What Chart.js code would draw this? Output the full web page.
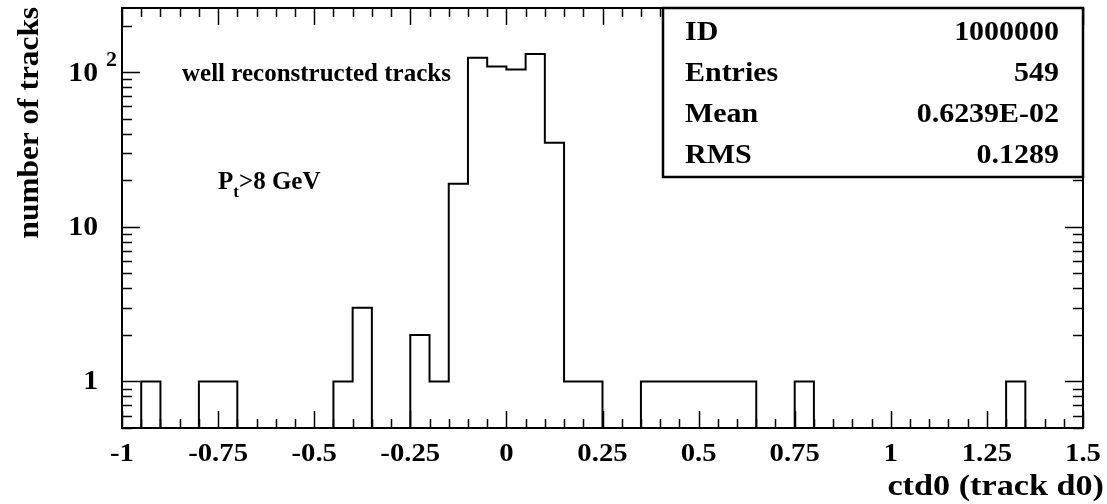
<!DOCTYPE html>
<html>
<head>
<meta charset="utf-8">
<script src="https://cdn.jsdelivr.net/npm/chart.js@4"></script>
<style>
  html, body { margin: 0; padding: 0; background: #fff; }
  #wrap { width: 1107px; height: 504px; }
</style>
</head>
<body>
<div id="wrap"><canvas id="hist"></canvas></div>
<script>
// histogram: 50 bins of 0.05 from -1 to 1.5
const binEdges = [-1, -0.95, -0.9, -0.85, -0.8, -0.75, -0.7, -0.65, -0.6, -0.55,
  -0.5, -0.45, -0.4, -0.35, -0.3, -0.25, -0.2, -0.15, -0.1, -0.05,
  0, 0.05, 0.1, 0.15, 0.2, 0.25, 0.3, 0.35, 0.4, 0.45,
  0.5, 0.55, 0.6, 0.65, 0.7, 0.75, 0.8, 0.85, 0.9, 0.95,
  1, 1.05, 1.1, 1.15, 1.2, 1.25, 1.3, 1.35, 1.4, 1.45, 1.5];
const counts = [0, 1, 0, 0, 1, 1, 0, 0, 0, 0,
  0, 1, 3, 0, 0, 2, 1, 19, 124, 109,
  104, 131, 35, 1, 1, 0, 0, 1, 1, 1,
  1, 1, 1, 0, 0, 1, 0, 0, 0, 0,
  0, 0, 0, 0, 0, 0, 1, 0, 0, 0];
const xTicks = [-1, -0.75, -0.5, -0.25, 0, 0.25, 0.5, 0.75, 1, 1.25, 1.5];
const xTickLabels = ['-1', '-0.75', '-0.5', '-0.25', '0', '0.25', '0.5', '0.75', '1', '1.25', '1.5'];
const statNames = ['ID', 'Entries', 'Mean', 'RMS'];
const statValues = ['1000000', '549', '0.6239E-02', '0.1289'];

const yMin = 0.5, yMax = 260;
const FONT = '"Liberation Serif", "Times New Roman", serif';

// step outline: one point per left edge, last point closes the final bin
// (empty bins sit on the axis floor)
const points = binEdges.map((x, i) => ({
  x: x,
  y: Math.max(i < counts.length ? counts[i] : counts[counts.length - 1], yMin)
}));

// bold serif text, optionally stretched horizontally like the PAW output
function txt(ctx, s, x, y, size, align, sx) {
  sx = sx || 1;
  ctx.save();
  ctx.font = 'bold ' + size + 'px ' + FONT;
  ctx.textAlign = align || 'left';
  ctx.textBaseline = 'middle';
  ctx.translate(x, y);
  ctx.scale(sx, 1);
  ctx.fillText(s, 0, 0);
  const w = ctx.measureText(s).width * sx;
  ctx.restore();
  return w;
}

const pawFrame = {
  id: 'pawFrame',
  afterDraw(chart) {
    const ctx = chart.ctx;
    const a = chart.chartArea;
    const xs = chart.scales.x, ys = chart.scales.y;
    ctx.save();
    ctx.strokeStyle = '#000';
    ctx.fillStyle = '#000';

    // frame
    ctx.lineWidth = 2;
    ctx.strokeRect(a.left, a.top, a.right - a.left, a.bottom - a.top);

    // x ticks, every 0.05, inward from bottom and top
    ctx.lineWidth = 1.5;
    ctx.beginPath();
    for (let i = 0; i <= 50; i++) {
      const v = -1 + i * 0.05;
      const px = Math.round(xs.getPixelForValue(v)) + 0.5;
      const len = (i % 5 === 0) ? 17 : 9;
      ctx.moveTo(px, a.bottom); ctx.lineTo(px, a.bottom - len);
      ctx.moveTo(px, a.top); ctx.lineTo(px, a.top + len);
    }
    // y ticks (log), inward from left and right
    for (let d = 0.1; d <= 100; d *= 10) {
      for (let m = 1; m <= 9; m++) {
        const v = d * m;
        if (v < yMin || v > yMax) continue;
        const py = Math.round(ys.getPixelForValue(v)) + 0.5;
        const len = (m === 1) ? 18 : 10;
        ctx.moveTo(a.left, py); ctx.lineTo(a.left + len, py);
        ctx.moveTo(a.right, py); ctx.lineTo(a.right - len, py);
      }
    }
    ctx.stroke();

    // x tick labels
    xTicks.forEach((v, i) => {
      txt(ctx, xTickLabels[i], xs.getPixelForValue(v), 455, 25, 'center', 1.15);
    });

    // y tick labels
    txt(ctx, '1', 98, ys.getPixelForValue(1) + 1, 27, 'right', 1.1);
    txt(ctx, '10', 98, ys.getPixelForValue(10) + 1, 27, 'right', 1.1);
    txt(ctx, '10', 98, ys.getPixelForValue(100) + 2, 27, 'right', 1.1);
    txt(ctx, '2', 106, ys.getPixelForValue(100) - 11, 20, 'left', 1.1);

    // axis titles
    txt(ctx, 'ctd0 (track d0)', 1104, 487, 30, 'right', 1.14);
    ctx.save();
    ctx.translate(31, 7);
    ctx.rotate(-Math.PI / 2);
    txt(ctx, 'number of tracks', 0, 0, 29, 'right', 1.08);
    ctx.restore();

    // annotations
    txt(ctx, 'well reconstructed tracks', 182, 75, 25, 'left');
    let px = 218;
    px += txt(ctx, 'P', px, 183, 25, 'left');
    px += txt(ctx, 't', px, 193, 17, 'left');
    txt(ctx, '>8 GeV', px, 183, 25, 'left');

    // statistics box
    const bx = 663, by = a.top, bw = a.right - 663, bh = 177 - a.top;
    ctx.fillStyle = '#fff';
    ctx.fillRect(bx, by, bw, bh);
    ctx.lineWidth = 2.5;
    ctx.strokeRect(bx, by, bw, bh);
    ctx.fillStyle = '#000';
    statNames.forEach((n, i) => {
      const ty = 33 + i * 41;
      txt(ctx, n, 685, ty, 28, 'left', 1.07);
      txt(ctx, statValues[i], 1059, ty, 28, 'right', 1.07);
    });
    ctx.restore();
  }
};

new Chart(document.getElementById('hist'), {
  type: 'line',
  data: {
    datasets: [{
      data: points,
      stepped: 'before',
      borderColor: '#000',
      borderWidth: 2,
      pointRadius: 0,
      fill: false
    }]
  },
  options: {
    responsive: true,
    maintainAspectRatio: false,
    animation: false,
    layout: { padding: { left: 122, right: 24, top: 8, bottom: 76 } },
    plugins: {
      legend: { display: false },
      tooltip: { enabled: false }
    },
    scales: {
      x: { type: 'linear', min: -1, max: 1.5, display: false },
      y: { type: 'logarithmic', min: yMin, max: yMax, display: false }
    }
  },
  plugins: [pawFrame]
});
</script>
</body>
</html>
